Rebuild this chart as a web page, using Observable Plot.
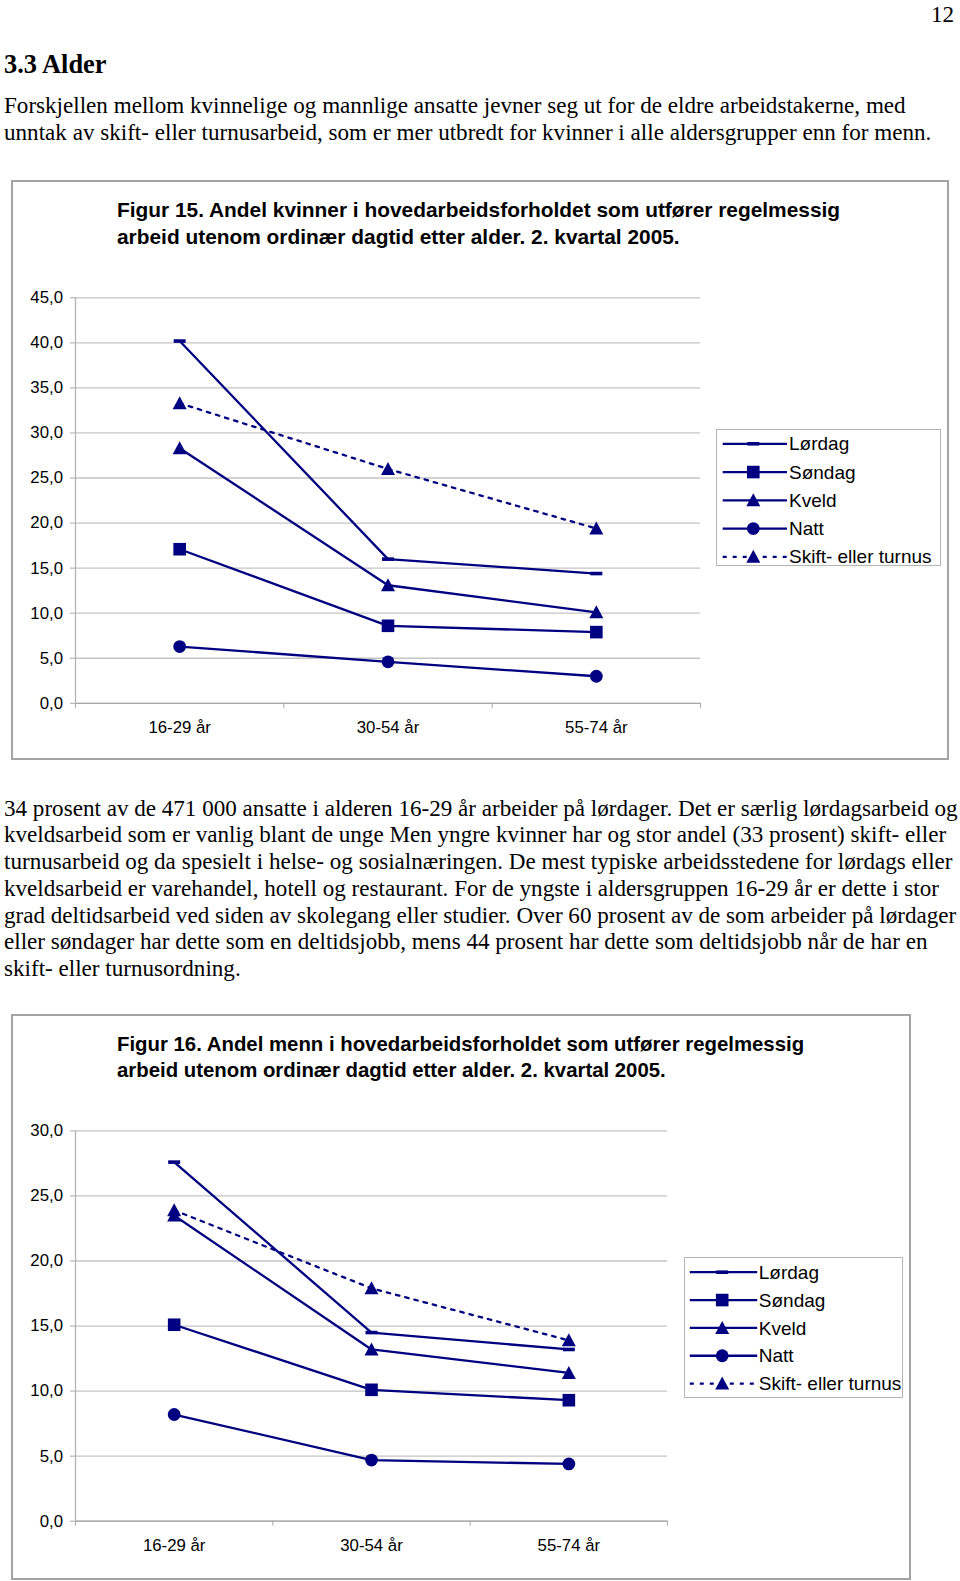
<!DOCTYPE html>
<html><head><meta charset="utf-8">
<script src="https://cdn.jsdelivr.net/npm/d3@7"></script>
<script src="https://cdn.jsdelivr.net/npm/@observablehq/plot@0.6"></script>
<style>
body{margin:0;background:#fff;}
#page{position:relative;width:960px;height:1581px;overflow:hidden;background:#fff;}
.t{position:absolute;white-space:nowrap;color:#000;}
.frame{position:absolute;border:2px solid #a4a4a4;box-sizing:border-box;}
.chart{position:absolute;}
</style></head><body><div id="page"></div>
<script>
// ---------- data ----------
const ages = ["16-29 år", "30-54 år", "55-74 år"];
const seriesNames = ["Lørdag", "Søndag", "Kveld", "Natt", "Skift- eller turnus"];

// Figur 15 – kvinner (prosent)
const kvinnerLordag = [40.2, 16.0, 14.4];
const kvinnerSondag = [17.1, 8.6, 7.9];
const kvinnerKveld  = [28.3, 13.1, 10.1];
const kvinnerNatt   = [6.3, 4.6, 3.0];
const kvinnerSkift  = [33.3, 26.0, 19.4];

// Figur 16 – menn (prosent)
const mennLordag = [27.6, 14.5, 13.2];
const mennSondag = [15.1, 10.1, 9.3];
const mennKveld  = [23.5, 13.2, 11.4];
const mennNatt   = [8.2, 4.7, 4.4];
const mennSkift  = [23.9, 17.9, 13.9];

const kvinnerTicks = [0, 5, 10, 15, 20, 25, 30, 35, 40, 45];
const mennTicks = [0, 5, 10, 15, 20, 25, 30];

// ---------- texts ----------
const pageNumber = "12";
const heading = "3.3 Alder";
const introLines = [
  "Forskjellen mellom kvinnelige og mannlige ansatte jevner seg ut for de eldre arbeidstakerne, med",
  "unntak av skift- eller turnusarbeid, som er mer utbredt for kvinner i alle aldersgrupper enn for menn."
];
const bodyLines = [
  "34 prosent av de 471 000 ansatte i alderen 16-29 år arbeider på lørdager. Det er særlig lørdagsarbeid og",
  "kveldsarbeid som er vanlig blant de unge Men yngre kvinner har og stor andel (33 prosent) skift- eller",
  "turnusarbeid og da spesielt i helse- og sosialnæringen. De mest typiske arbeidsstedene for lørdags eller",
  "kveldsarbeid er varehandel, hotell og restaurant. For de yngste i aldersgruppen 16-29 år er dette i stor",
  "grad deltidsarbeid ved siden av skolegang eller studier. Over 60 prosent av de som arbeider på lørdager",
  "eller søndager har dette som en deltidsjobb, mens 44 prosent har dette som deltidsjobb når de har en",
  "skift- eller turnusordning."
];
const fig15Title = [
  "Figur 15. Andel kvinner i hovedarbeidsforholdet som utfører regelmessig",
  "arbeid utenom ordinær dagtid etter alder. 2. kvartal 2005."
];
const fig16Title = [
  "Figur 16. Andel menn i hovedarbeidsforholdet som utfører regelmessig",
  "arbeid utenom ordinær dagtid etter alder. 2. kvartal 2005."
];

// ---------- helpers ----------
const page = document.getElementById("page");
const NAVY = "#000080";
const SERIF = '"Liberation Serif","Times New Roman",serif';
const SANS = '"Liberation Sans",Arial,sans-serif';
const cvs = document.createElement("canvas").getContext("2d");
function fitSize(text, family, weight, target) {
  cvs.font = `${weight} 100px ${family}`;
  return 100 * target / cvs.measureText(text).width;
}
function addText(text, x, cy, size, family, weight, anchor, lhFactor) {
  const d = document.createElement("div");
  d.className = "t";
  const lh = Math.round(size * (lhFactor || 1.3));
  d.style.lineHeight = lh + "px";
  d.style.fontSize = size + "px";
  d.style.fontFamily = family;
  d.style.fontWeight = weight;
  d.style.top = Math.max(0, cy - lh / 2) + "px";
  if (anchor === "end") d.style.right = (960 - x) + "px"; else d.style.left = x + "px";
  d.textContent = text;
  page.appendChild(d);
}
function addFrame(l, t, w, h, cls, extra) {
  const d = document.createElement("div");
  d.className = cls || "frame";
  d.style.left = l + "px"; d.style.top = t + "px";
  d.style.width = w + "px"; d.style.height = h + "px";
  if (extra) Object.assign(d.style, extra);
  page.appendChild(d);
}

// symbols (drawn centred on the data point)
const symDash = {draw(c) { c.rect(-6, -1.8, 12, 3.6); }};
const symSquare = {draw(c) { c.rect(-6.3, -6.3, 12.6, 12.6); }};
const symTriangle = {draw(c) { c.moveTo(0, -7); c.lineTo(7, 6); c.lineTo(-7, 6); c.closePath(); }};
const symCircle = {draw(c) { c.moveTo(6.4, 0); c.arc(0, 0, 6.4, 0, 2 * Math.PI); c.closePath(); }};
const seriesSymbols = [symDash, symSquare, symTriangle, symCircle, symTriangle];
const seriesDash = [null, null, null, null, "3.5,6"];

const fmt = d => d.toFixed(1).replace(".", ",");

function makeChart(values, ticks, dims) {
  const data = [];
  seriesNames.forEach((s, si) => values[si].forEach((v, i) => data.push({series: s, si, age: i, value: v})));
  const boundaries = d3.range(ages.length + 1).map(i => i - 0.5);
  const marks = [
    Plot.ruleY(ticks, {stroke: "#c4c4c4", strokeWidth: 1.3}),
    Plot.ruleY([0], {stroke: "#a8a8a8", strokeWidth: 1.3}),
    Plot.ruleX([-0.5], {stroke: "#b4b4b4", strokeWidth: 1.3}),
    Plot.axisY({ticks, tickFormat: fmt, tickSize: 5, tickPadding: 7.5, stroke: "#a8a8a8", fill: "#000", fontSize: 16.8, label: null}),
    Plot.axisX({ticks: boundaries, tickFormat: () => "", tickSize: 5, stroke: "#a8a8a8", label: null}),
    Plot.axisX({ticks: ages.map((d, i) => i), tickFormat: i => ages[i], tickSize: 0, tickPadding: 17.5, fill: "#000", fontSize: 16.8, label: null})
  ];
  seriesNames.forEach((s, si) => {
    const sd = data.filter(d => d.si === si);
    marks.push(Plot.line(sd, {x: "age", y: "value", stroke: NAVY, strokeWidth: 2.3, strokeDasharray: seriesDash[si] || undefined}));
  });
  seriesNames.forEach((s, si) => {
    const sd = data.filter(d => d.si === si);
    marks.push(Plot.dot(sd, {x: "age", y: "value", symbol: seriesSymbols[si], r: 6, fill: NAVY, stroke: "none"}));
  });
  const svg = Plot.plot({
    width: dims.width, height: dims.height,
    marginLeft: dims.ml, marginRight: dims.mr, marginTop: dims.mt, marginBottom: dims.mb,
    style: {fontFamily: SANS, fontSize: "16.8px", color: "#000", background: "transparent", overflow: "visible"},
    x: {type: "linear", domain: [-0.5, ages.length - 0.5]},
    y: {domain: [0, ticks[ticks.length - 1]]},
    marks
  });
  const wrap = document.createElement("div");
  wrap.className = "chart";
  wrap.style.left = dims.left + "px"; wrap.style.top = dims.top + "px";
  wrap.appendChild(svg);
  page.appendChild(wrap);
}

function makeLegend(box, ent) {
  addFrame(box.l, box.t, box.w, box.h, "frame", {border: "1.3px solid #b4b4b4"});
  const svg = d3.create("svg").attr("width", box.w).attr("height", box.h)
    .style("position", "absolute").style("left", box.l + "px").style("top", box.t + "px").style("overflow", "visible");
  seriesNames.forEach((s, i) => {
    const cy = ent.y0 + i * ent.dy - box.t;
    svg.append("line").attr("x1", ent.x1 - box.l).attr("x2", ent.x2 - box.l).attr("y1", cy).attr("y2", cy)
      .attr("stroke", NAVY).attr("stroke-width", 2.3).attr("stroke-dasharray", seriesDash[i] ? "4,6" : null);
    const p = d3.path();
    seriesSymbols[i].draw(p);
    svg.append("path").attr("d", p.toString()).attr("fill", NAVY)
      .attr("transform", `translate(${ent.xm - box.l},${cy})`);
    svg.append("text").attr("x", ent.xt - box.l).attr("y", cy).attr("dy", "0.35em")
      .attr("font-family", SANS).attr("font-size", 19).attr("fill", "#000").text(s);
  });
  page.appendChild(svg.node());
}

// ---------- page text ----------
const bodySize = fitSize(bodyLines[0], SERIF, "normal", 954);
addText(pageNumber, 954, 13, bodySize, SERIF, "normal", "end", 1.2);
addText(heading, 4, 64.5, fitSize(heading, SERIF, "bold", 104), SERIF, "bold");
[104.9, 132.1].forEach((y, i) => addText(introLines[i], 4, y, bodySize, SERIF, "normal"));
[807.7, 834.2, 861.2, 887.6, 914.6, 940.9, 968].forEach((y, i) => addText(bodyLines[i], 4, y, bodySize, SERIF, "normal"));

// ---------- Figur 15 ----------
addFrame(10.5, 179.5, 938, 580);
const t15 = fitSize(fig15Title[0], SANS, "bold", 724);
addText(fig15Title[0], 117, 209.7, t15, SANS, "bold");
addText(fig15Title[1], 117, 236, t15, SANS, "bold");
makeChart([kvinnerLordag, kvinnerSondag, kvinnerKveld, kvinnerNatt, kvinnerSkift], kvinnerTicks,
  {left: 0, top: 270, width: 720, height: 480, ml: 75, mr: 20, mt: 27.3, mb: 47.2});
makeLegend({l: 716, t: 429, w: 225, h: 137}, {y0: 443.8, dy: 28.25, x1: 722.7, x2: 787, xm: 753.3, xt: 789});

// ---------- Figur 16 ----------
addFrame(10.5, 1014, 900, 566);
const t16 = fitSize(fig16Title[0], SANS, "bold", 688);
addText(fig16Title[0], 117, 1043.6, t16, SANS, "bold");
addText(fig16Title[1], 117, 1069.9, t16, SANS, "bold");
makeChart([mennLordag, mennSondag, mennKveld, mennNatt, mennSkift], mennTicks,
  {left: 0, top: 1100, width: 700, height: 470, ml: 75, mr: 33, mt: 30.4, mb: 49.3});
makeLegend({l: 683.5, t: 1256.5, w: 219.5, h: 141}, {y0: 1271.7, dy: 27.85, x1: 689.3, x2: 756.7, xm: 721.7, xt: 758.3});
</script>
</body></html>
